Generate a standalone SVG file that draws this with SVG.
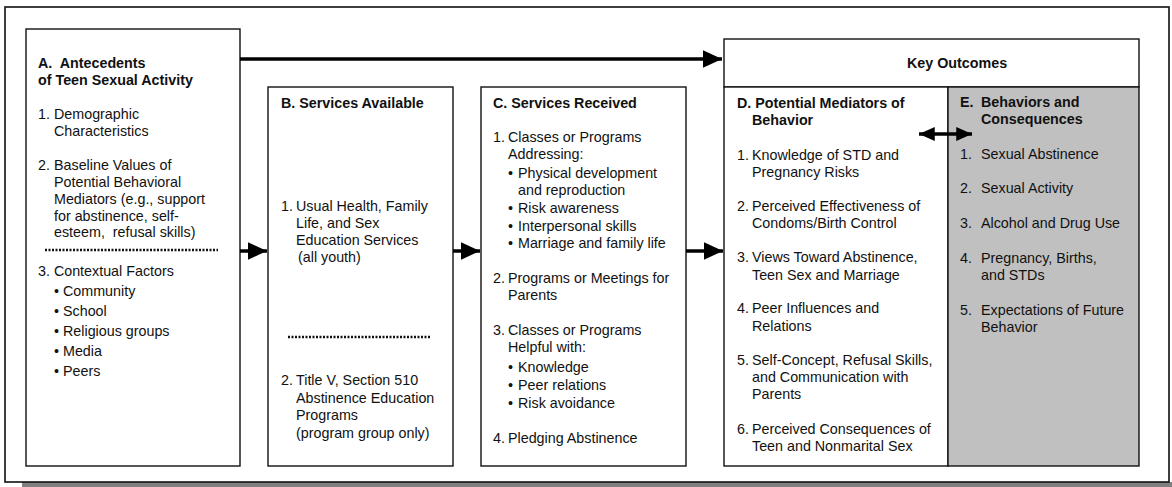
<svg xmlns="http://www.w3.org/2000/svg" width="1172" height="487" viewBox="0 0 1172 487">
<defs>
<style>
text{font-family:"Liberation Sans",Arial,sans-serif;font-size:14.3px;fill:#111}
.b{font-weight:bold}
.box{fill:#fff;stroke:#111;stroke-width:1.4}
.dot{stroke:#111;stroke-width:2.5;stroke-dasharray:2 1.5}
.arr{stroke:#000;stroke-width:3.5;fill:none}
</style>
<marker id="ah" markerWidth="6" markerHeight="5" refX="5.5" refY="2.5" orient="auto" markerUnits="strokeWidth">
<path d="M0,0 L5.5,2.5 L0,5 Z" fill="#000"/>
</marker>
<marker id="ah2" markerWidth="5" markerHeight="4" refX="4.5" refY="2" orient="auto-start-reverse" markerUnits="strokeWidth">
<path d="M0,0 L4.5,2 L0,4 Z" fill="#000"/>
</marker>
</defs>
<rect x="22" y="482" width="1150" height="5" fill="#808080"/>
<rect x="5" y="7" width="1164" height="475" fill="#fff" stroke="#111" stroke-width="1.6"/>

<g id="nodeA">
<rect class="box" x="26" y="29" width="214" height="437"/>
<text class="b" x="38" y="68" xml:space="preserve">A.  Antecedents</text>
<text class="b" x="38" y="85">of Teen Sexual Activity</text>
<text x="38" y="119">1.</text><text x="54" y="119">Demographic</text>
<text x="54" y="136">Characteristics</text>
<text x="38" y="170">2.</text><text x="54" y="170">Baseline Values of</text>
<text x="54" y="187">Potential Behavioral</text>
<text x="54" y="204">Mediators (e.g., support</text>
<text x="54" y="221">for abstinence, self-</text>
<text x="54" y="237" xml:space="preserve">esteem,  refusal skills)</text>
<line class="dot" x1="45" y1="250" x2="218" y2="250"/>
<text x="38" y="276">3. Contextual Factors</text>
<text x="54" y="296">•</text><text x="63" y="296">Community</text>
<text x="54" y="316">•</text><text x="63" y="316">School</text>
<text x="54" y="336">•</text><text x="63" y="336">Religious groups</text>
<text x="54" y="356">•</text><text x="63" y="356">Media</text>
<text x="54" y="376">•</text><text x="63" y="376">Peers</text>
</g>

<g id="nodeB">
<rect class="box" x="268" y="87" width="185" height="379"/>
<text class="b" x="281" y="108">B. Services Available</text>
<text x="281" y="211">1.</text><text x="296" y="211">Usual Health, Family</text>
<text x="296" y="228">Life, and Sex</text>
<text x="296" y="245">Education Services</text>
<text x="298" y="262">(all youth)</text>
<line class="dot" x1="288" y1="337" x2="431" y2="337"/>
<text x="281" y="385">2.</text><text x="296" y="385">Title V, Section 510</text>
<text x="296" y="403">Abstinence Education</text>
<text x="296" y="420">Programs</text>
<text x="296" y="438">(program group only)</text>
</g>

<g id="nodeC">
<rect class="box" x="481" y="87" width="205" height="379"/>
<text class="b" x="493" y="108">C. Services Received</text>
<text x="493" y="142">1.</text><text x="508" y="142">Classes or Programs</text>
<text x="508" y="159">Addressing:</text>
<text x="508" y="178">•</text><text x="518" y="178">Physical development</text>
<text x="518" y="195">and reproduction</text>
<text x="508" y="213">•</text><text x="518" y="213">Risk awareness</text>
<text x="508" y="231">•</text><text x="518" y="231">Interpersonal skills</text>
<text x="508" y="248">•</text><text x="518" y="248">Marriage and family life</text>
<text x="493" y="283">2.</text><text x="508" y="283">Programs or Meetings for</text>
<text x="508" y="300">Parents</text>
<text x="493" y="335">3.</text><text x="508" y="335">Classes or Programs</text>
<text x="508" y="352">Helpful with:</text>
<text x="508" y="372">•</text><text x="518" y="372">Knowledge</text>
<text x="508" y="390">•</text><text x="518" y="390">Peer relations</text>
<text x="508" y="408">•</text><text x="518" y="408">Risk avoidance</text>
<text x="493" y="443">4.</text><text x="508" y="443">Pledging Abstinence</text>
</g>

<g id="keyOutcomes">
<rect class="box" x="724" y="39" width="415" height="48"/>
<text class="b" x="907" y="68">Key Outcomes</text>
</g>

<g id="nodeD">
<rect class="box" x="724" y="87" width="224" height="379"/>
<text class="b" x="737" y="108">D. Potential Mediators of</text>
<text class="b" x="752" y="125">Behavior</text>
<text x="737" y="160">1.</text><text x="752" y="160">Knowledge of STD and</text>
<text x="752" y="177">Pregnancy Risks</text>
<text x="737" y="211">2.</text><text x="752" y="211">Perceived Effectiveness of</text>
<text x="752" y="228">Condoms/Birth Control</text>
<text x="737" y="262">3.</text><text x="752" y="262">Views Toward Abstinence,</text>
<text x="752" y="280">Teen Sex and Marriage</text>
<text x="737" y="313">4.</text><text x="752" y="313">Peer Influences and</text>
<text x="752" y="331">Relations</text>
<text x="737" y="365">5.</text><text x="752" y="365">Self-Concept, Refusal Skills,</text>
<text x="752" y="382">and Communication with</text>
<text x="752" y="399">Parents</text>
<text x="737" y="434">6.</text><text x="752" y="434">Perceived Consequences of</text>
<text x="752" y="451">Teen and Nonmarital Sex</text>
</g>

<g id="nodeE">
<rect x="948" y="87" width="191" height="379" fill="#c0c0c0" stroke="#111" stroke-width="1.4"/>
<text class="b" x="960" y="107">E.</text><text class="b" x="981" y="107">Behaviors and</text>
<text class="b" x="981" y="124">Consequences</text>
<text x="960" y="159">1.</text><text x="981" y="159">Sexual Abstinence</text>
<text x="960" y="193">2.</text><text x="981" y="193">Sexual Activity</text>
<text x="960" y="228">3.</text><text x="981" y="228">Alcohol and Drug Use</text>
<text x="960" y="263">4.</text><text x="981" y="263">Pregnancy, Births,</text>
<text x="981" y="280">and STDs</text>
<text x="960" y="315">5.</text><text x="981" y="315">Expectations of Future</text>
<text x="981" y="332">Behavior</text>
</g>

<g id="connectors">
<line class="arr" x1="240" y1="59" x2="722" y2="59" marker-end="url(#ah)"/>
<line class="arr" x1="240" y1="251" x2="267" y2="251" marker-end="url(#ah)"/>
<line class="arr" x1="453" y1="251" x2="480" y2="251" marker-end="url(#ah)"/>
<line class="arr" x1="686" y1="251" x2="723" y2="251" marker-end="url(#ah)"/>
<line class="arr" x1="919" y1="134" x2="972" y2="134" marker-start="url(#ah2)" marker-end="url(#ah2)"/>
</g>
</svg>
